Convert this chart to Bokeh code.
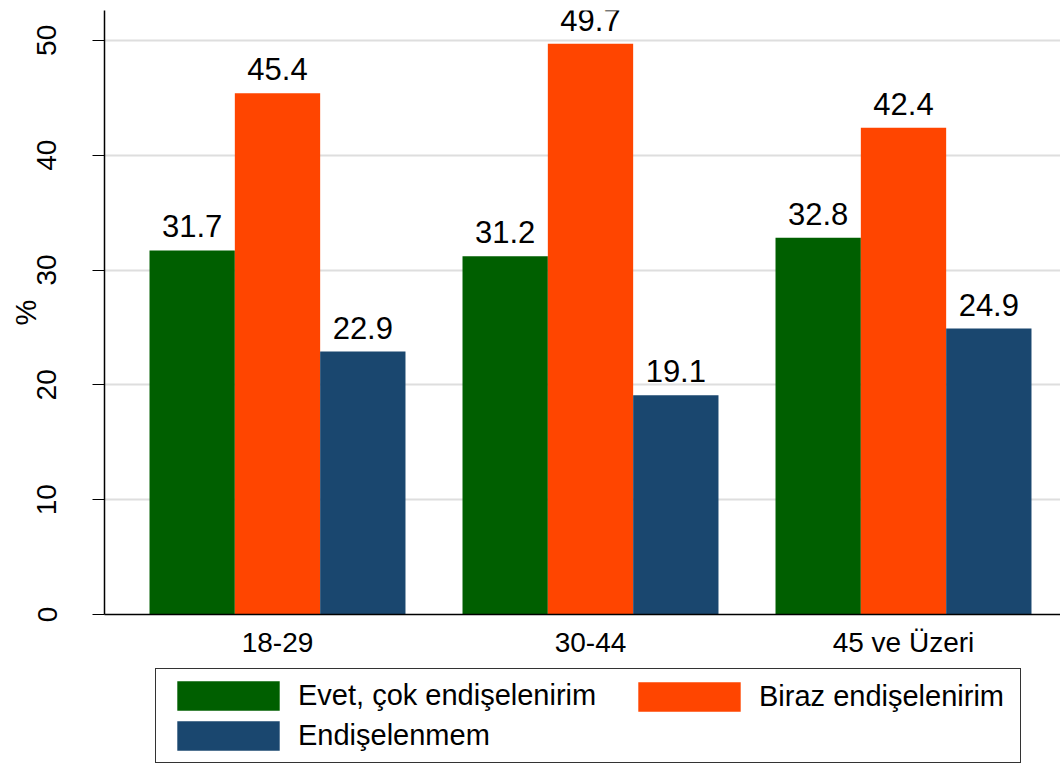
from bokeh.plotting import figure
from bokeh.layouts import column
from bokeh.models import ColumnDataSource, FixedTicker, Legend, LegendItem, LabelSet
from bokeh.core.properties import value
from bokeh.embed import file_html
from bokeh.resources import INLINE

# ---- data ----
categories = ["18-29", "30-44", "45 ve Üzeri"]
series_names = ["Evet, çok endişelenirim", "Biraz endişelenirim", "Endişelenmem"]
cok_endiseli = [31.7, 31.2, 32.8]
biraz_endiseli = [45.4, 49.7, 42.4]
endiselenmem = [22.9, 19.1, 24.9]
y_ticks = [0, 10, 20, 30, 40, 50]

colors = ["#005f00", "#ff4500", "#1a476f"]
FONT = "Liberation Sans"

p = figure(width=1060, height=664, output_backend="svg", toolbar_location=None,
           x_range=(0.4473, 3.5016), y_range=(0, 52.6),
           min_border_left=104, min_border_right=0, min_border_top=10,
           min_border_bottom=50)
p.outline_line_color = None
p.background_fill_color = "white"
p.border_fill_color = "white"

bar_w = 0.2726
offsets = [-bar_w, 0.0, bar_w]
sources = []
renderers = []
for vals, off, col in zip([cok_endiseli, biraz_endiseli, endiselenmem], offsets, colors):
    src = ColumnDataSource(dict(
        x=[i + 1 + off for i in range(len(categories))],
        top=vals,
        label=[f"{v:.1f}" for v in vals],
    ))
    sources.append(src)
    r = p.vbar(x="x", top="top", width=bar_w, source=src, fill_color=col,
               line_color=None)
    renderers.append(r)
    p.add_layout(LabelSet(x="x", y="top", text="label", source=src,
                          text_align="center", text_baseline="alphabetic",
                          y_offset=13, text_font=value(FONT),
                          text_font_size="31px", text_color="black"))

# ---- axes ----
p.xaxis.ticker = FixedTicker(ticks=[1, 2, 3])
p.xaxis.major_label_overrides = {i + 1: c for i, c in enumerate(categories)}
p.xaxis.major_tick_out = 0
p.xaxis.major_tick_in = 0
p.xaxis.minor_tick_out = 0
p.xaxis.minor_tick_in = 0
p.xaxis.major_label_standoff = 12
p.xaxis.major_label_text_font = FONT
p.xaxis.major_label_text_font_size = "28px"
p.xaxis.major_label_text_color = "black"
p.xaxis.axis_line_color = "black"
p.xaxis.axis_line_width = 1.5

p.yaxis.ticker = FixedTicker(ticks=y_ticks)
p.yaxis.major_tick_out = 12
p.yaxis.major_tick_in = 0
p.yaxis.minor_tick_out = 0
p.yaxis.minor_tick_in = 0
p.yaxis.major_tick_line_color = "black"
p.yaxis.major_label_orientation = "vertical"
p.yaxis.major_label_standoff = 36
p.yaxis.major_label_text_font = FONT
p.yaxis.major_label_text_font_size = "28px"
p.yaxis.major_label_text_color = "black"
p.yaxis.axis_line_color = "black"
p.yaxis.axis_line_width = 1.5
p.yaxis.axis_label = "%"
p.yaxis.axis_label_text_font = FONT
p.yaxis.axis_label_text_font_size = "29px"
p.yaxis.axis_label_text_font_style = "normal"
p.yaxis.axis_label_text_color = "black"
p.yaxis.axis_label_standoff = -7

p.xgrid.grid_line_color = None
p.ygrid.ticker = FixedTicker(ticks=y_ticks[1:])
p.ygrid.grid_line_color = "#dedede"
p.ygrid.grid_line_width = 2

# ---- legend strip (a second figure under the chart) ----
pl = figure(width=1060, height=100, output_backend="svg", toolbar_location=None,
            x_range=(0, 1), y_range=(0, 1), x_axis_location=None,
            y_axis_location=None, min_border=0)
pl.outline_line_color = None
pl.grid.visible = False
pl.background_fill_color = "white"
pl.border_fill_color = "white"
leg_renderers = []
for src, col in zip(sources, colors):
    lr = pl.vbar(x="x", top="top", width=bar_w, source=src, fill_color=col,
                 line_color=None, visible=False)
    leg_renderers.append(lr)

common = dict(label_text_font=FONT, label_text_font_size="29px",
              label_text_color="black", glyph_width=128, glyph_height=37,
              label_standoff=6, spacing=3, padding=8, margin=0,
              inactive_fill_alpha=0.0)
leg_a = Legend(items=[LegendItem(label=series_names[0], renderers=[leg_renderers[0]]),
                      LegendItem(label=series_names[2], renderers=[leg_renderers[2]])],
               location=(51, 1), orientation="vertical", label_width=714,
               border_line_color="#333333", border_line_width=1.5,
               border_line_alpha=1.0,
               background_fill_color="white", background_fill_alpha=1.0, **common)
leg_b = Legend(items=[LegendItem(label=series_names[1], renderers=[leg_renderers[1]])],
               location=(521, 49), orientation="vertical",
               border_line_color=None, background_fill_alpha=0.0, **common)
pl.add_layout(leg_a, "center")
pl.add_layout(leg_b, "center")

layout = column(p, pl, spacing=0)
open("out.html", "w").write(file_html(layout, INLINE))
